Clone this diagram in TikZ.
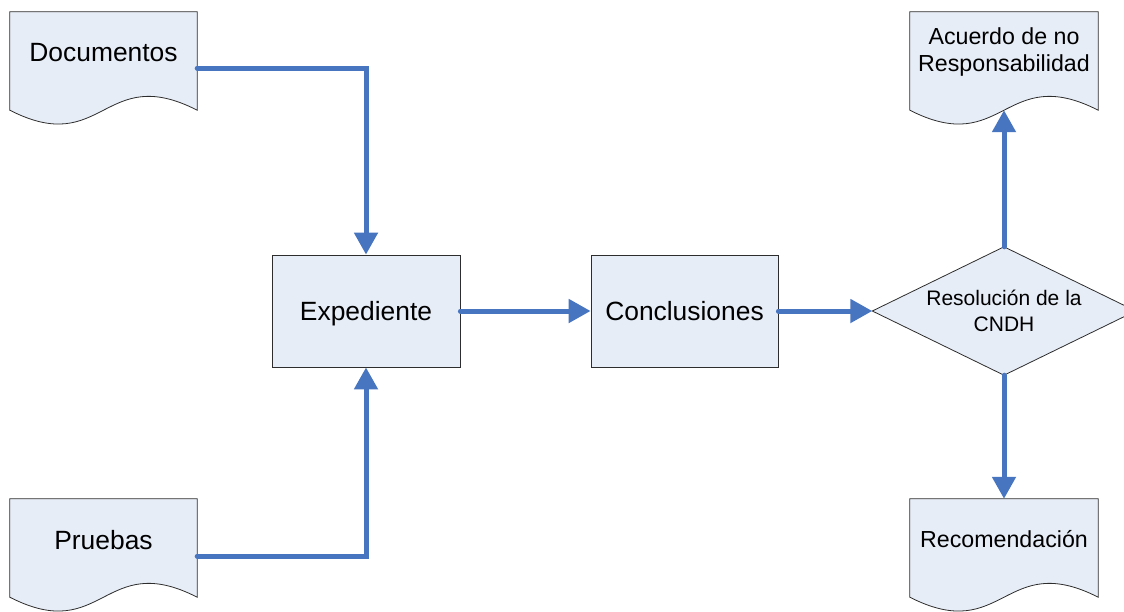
\documentclass[tikz,border=0pt]{standalone}
\usepackage{fontspec}
\setmainfont{Liberation Sans}
\usetikzlibrary{arrows.meta,calc}

\definecolor{boxfill}{RGB}{231,237,247}
\definecolor{flowblue}{RGB}{72,117,192}
\definecolor{outline}{RGB}{45,45,45}

% document symbol: flat top, straight sides, wavy bottom below the text area
\newcommand\docshape[1]{%
  \draw[docline] (#1.north west) -- (#1.north east) -- ([yshift=-18pt]#1.south east)
    .. controls ([yshift=30pt]#1.south) and ([yshift=-66pt]#1.south) ..
    ([yshift=-18pt]#1.south west) -- cycle;}

\tikzset{
  docline/.style={fill=boxfill, draw=outline, line width=0.8pt},
  docbox/.style={rectangle, minimum width=187pt, minimum height=80pt, inner sep=0pt, align=center},
  procbox/.style={rectangle, draw=outline, fill=boxfill, line width=0.8pt,
    minimum width=188pt, minimum height=112pt, inner sep=0pt, align=center,
    text depth=0pt, font=\fontsize{26.4}{30}\selectfont},
  decbox/.style={rectangle, minimum width=263pt, minimum height=128pt, inner sep=0pt, align=center,
    font=\fontsize{21}{25.5}\selectfont},
  bigtext/.style={font=\fontsize{26.4}{30}\selectfont},
  smalltext/.style={font=\fontsize{23.2}{27.5}\selectfont},
  flow/.style={draw=flowblue, line width=5pt, line cap=round,
    -{Triangle[length=22pt,width=23pt]}},
}

\begin{document}
\begin{tikzpicture}[x=1pt,y=-1pt]
  \useasboundingbox (0,0) rectangle (1124,611);

  % text areas of the document symbols
  \node[docbox, bigtext]   (docs)  at (103.5,52)  {};
  \node[docbox, bigtext]   (pru)   at (103.5,539) {};
  \node[docbox, smalltext, minimum width=188pt] (acu) at (1004,52)  {};
  \node[docbox, smalltext, minimum width=188pt] (rec) at (1004,539) {};

  \docshape{docs}
  \docshape{pru}
  \docshape{acu}
  \docshape{rec}

  \node[bigtext]   at ([yshift=-1pt]docs) {Documentos};
  \node[bigtext]   at ([yshift=-1pt]pru)  {Pruebas};
  \node[smalltext, align=center] at (acu) {Acuerdo de no\\Responsabilidad};
  \node[smalltext] at (rec)  {Recomendación};

  % process boxes
  \node[procbox] (exp) at (366,311)   {Expediente};
  \node[procbox, minimum width=187pt] (con) at (684.5,311) {Conclusiones};

  % decision
  \node[decbox] (res) at (1004,311) {};
  \draw[docline] (res.west) -- (res.north) -- (res.east) -- (res.south) -- cycle;
  \node[decbox] at (res) {Resolución de la\\CNDH};

  % connectors
  \draw[flow] ([yshift=-16pt]docs.east) -| (exp.north);
  \draw[flow] ([yshift=-17pt]pru.east) -| (exp.south);
  \draw[flow] (exp.east) -- (con.west);
  \draw[flow] (con.east) -- (res.west);
  \draw[flow] (res.north) -- ([yshift=-18pt]acu.south);
  \draw[flow] (res.south) -- (rec.north);
\end{tikzpicture}
\end{document}
